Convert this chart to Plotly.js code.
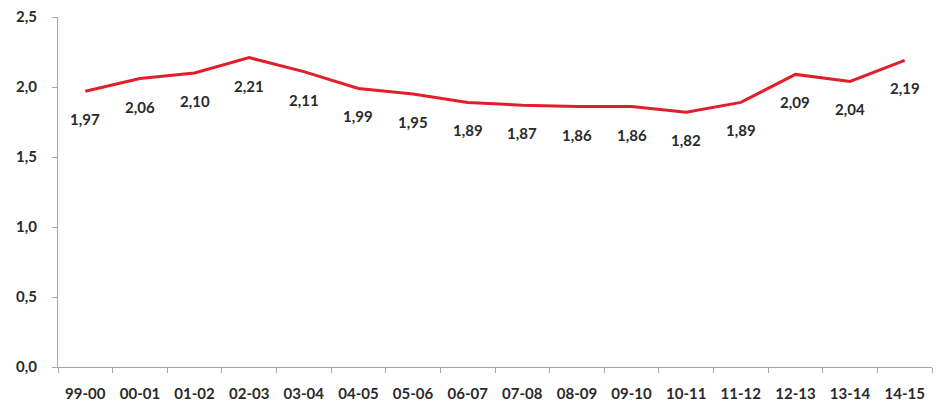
<!DOCTYPE html>
<html>
<head>
<meta charset="utf-8">
<script src="https://cdn.plot.ly/plotly-3.0.1.min.js"></script>
<style>html,body{margin:0;padding:0;background:#fff;}#chart{width:939px;height:405px;}</style>
</head>
<body>
<div id="chart"></div>
<script>
const categories = ["99-00","00-01","01-02","02-03","03-04","04-05","05-06","06-07","07-08","08-09","09-10","10-11","11-12","12-13","13-14","14-15"];
const values = [1.97,2.06,2.10,2.21,2.11,1.99,1.95,1.89,1.87,1.86,1.86,1.82,1.89,2.09,2.04,2.19];
const yTicks = [0,0.5,1.0,1.5,2.0,2.5];

const fontFamily = "Lato, 'Open Sans', sans-serif";
const textColor = "#2a2a2a";

const trace = {
  x: categories,
  y: values,
  type: "scatter",
  mode: "lines",
  line: {color: "#e11f2b", width: 3},
  hoverinfo: "skip"
};

const annotations = categories.map((c, i) => ({
  x: c,
  y: values[i],
  xref: "x",
  yref: "y",
  text: "<b>" + values[i].toFixed(2).replace(".", ",") + "</b>",
  showarrow: false,
  yshift: -28,
  font: {family: fontFamily, size: 15, color: textColor}
}));

const layout = {
  width: 939,
  height: 405,
  margin: {l: 58, r: 7, t: 17, b: 38},
  paper_bgcolor: "#ffffff",
  plot_bgcolor: "#ffffff",
  separators: ",.",
  showlegend: false,
  font: {family: fontFamily, size: 15, color: textColor},
  xaxis: {
    type: "category",
    range: [-0.5, categories.length - 0.5],
    showgrid: false,
    zeroline: false,
    showline: true,
    linecolor: "#a6a6a6",
    linewidth: 1,
    ticks: "outside",
    tickson: "boundaries",
    ticklen: 5,
    tickcolor: "#a6a6a6",
    ticklabelstandoff: 13,
    tickfont: {family: fontFamily, size: 15, color: textColor, weight: "bold"},
    fixedrange: true
  },
  yaxis: {
    range: [0, 2.5],
    tickvals: yTicks,
    tickformat: ".1f",
    showgrid: false,
    zeroline: false,
    showline: true,
    linecolor: "#a6a6a6",
    linewidth: 1,
    ticks: "outside",
    ticklen: 5,
    tickcolor: "#a6a6a6",
    ticklabelstandoff: 12,
    tickfont: {family: fontFamily, size: 15, color: textColor, weight: "bold"},
    fixedrange: true
  },
  annotations: annotations
};

Plotly.newPlot("chart", [trace], layout, {staticPlot: true, displayModeBar: false});
</script>
</body>
</html>
